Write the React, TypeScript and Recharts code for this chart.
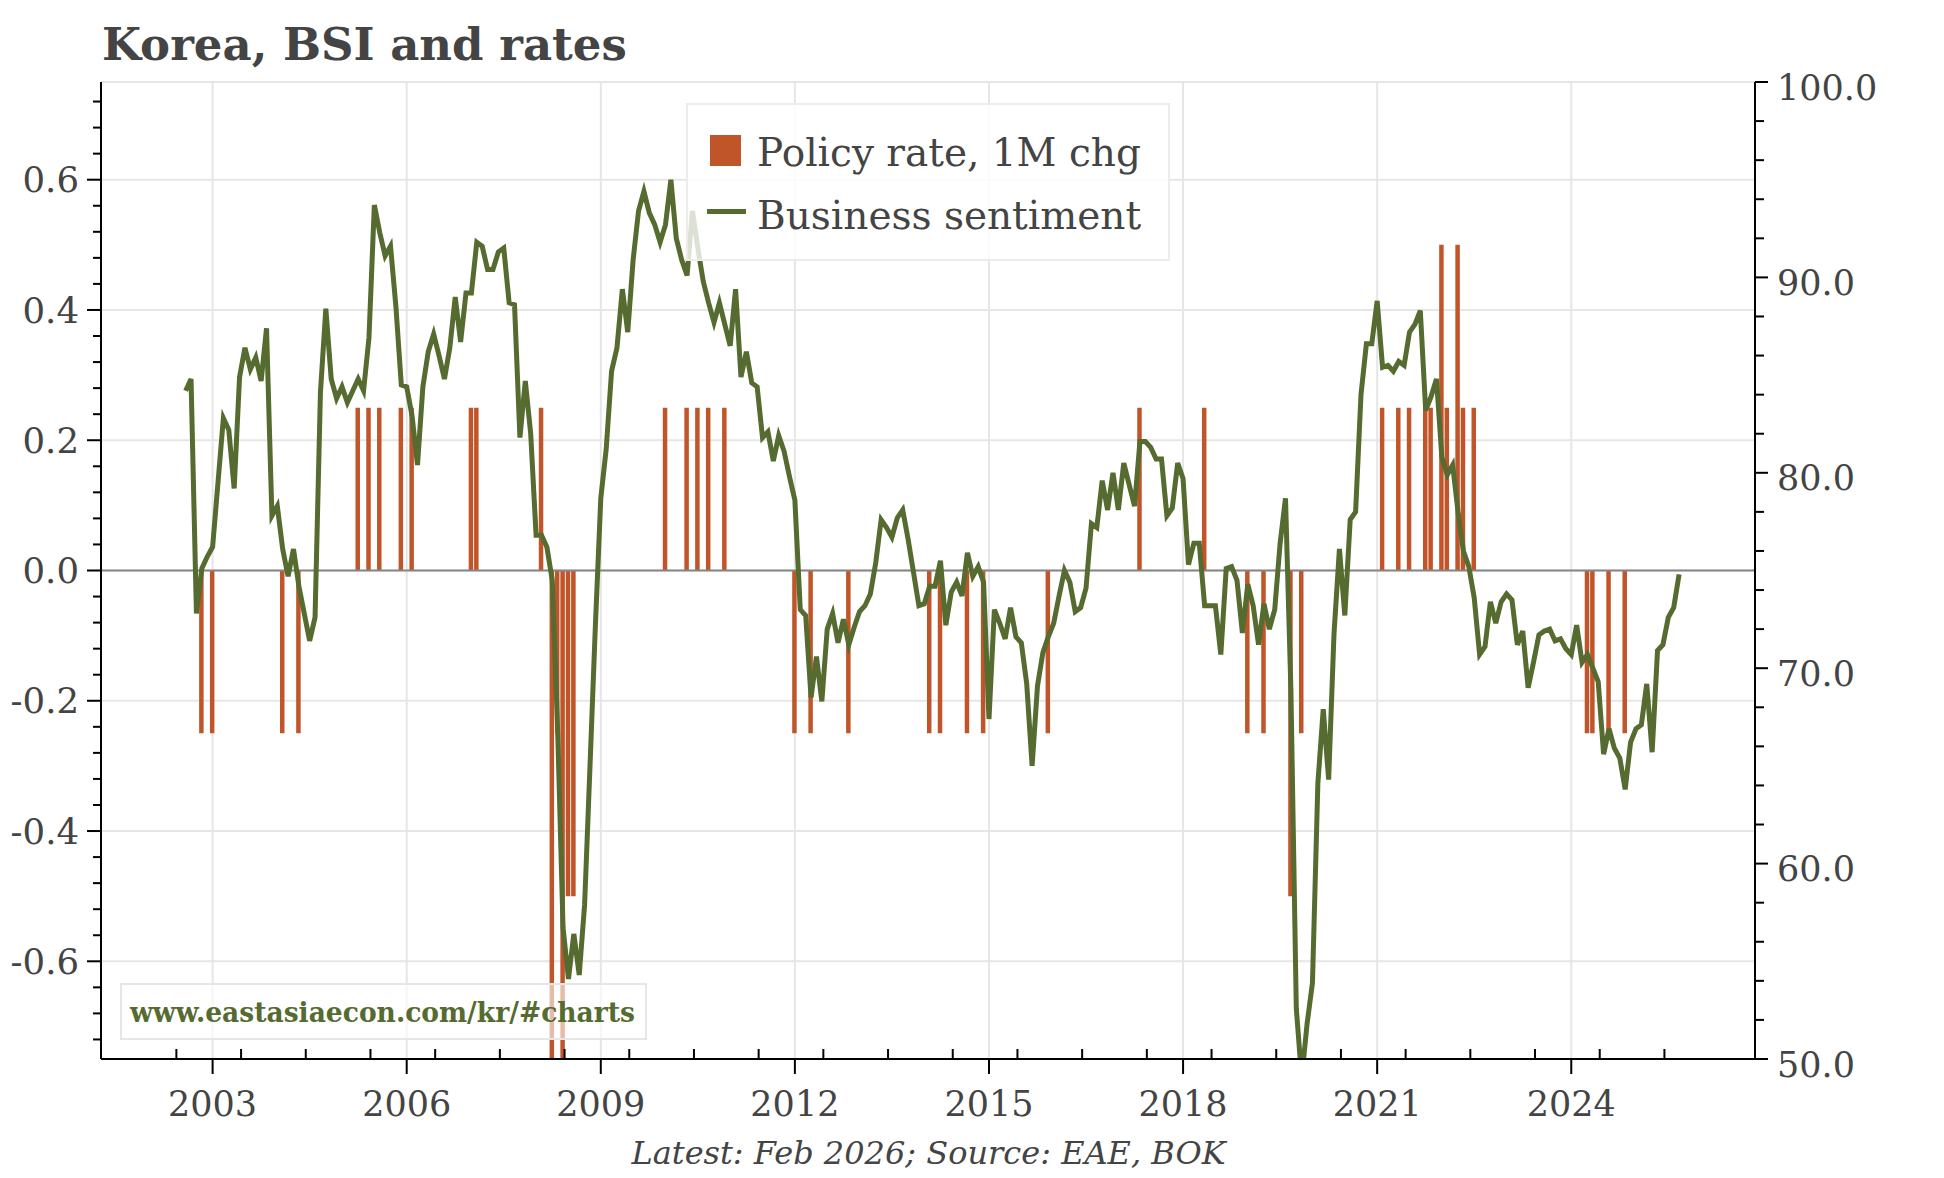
import React from 'react';
import { ComposedChart, Bar, Line, XAxis, YAxis, CartesianGrid, ReferenceLine, Legend } from 'recharts';

const FONT = '"DejaVu Serif", serif';
const TEXT = '#444444';
const GREEN = '#556B2F';
const ORANGE = '#C0552A';

// Business sentiment (monthly, Jan 2003 .. Feb 2026)
const bsi2003 = [84.2, 84.8, 72.8, 75.1, 75.7, 76.2, 79.5, 82.8, 82.2, 79.2, 84.9, 86.4];
const bsi2004 = [85.3, 85.9, 84.7, 87.4, 77.8, 78.3, 76.1, 74.7, 76.1, 74.2, 72.8, 71.4];
const bsi2005 = [72.6, 84.1, 88.4, 84.8, 83.8, 84.4, 83.6, 84.2, 84.8, 84.2, 86.9, 93.7];
const bsi2006 = [92.3, 91.1, 91.6, 88.5, 84.5, 84.4, 82.9, 80.4, 84.4, 86.2, 87.1, 86.0];
const bsi2007 = [84.8, 86.4, 89.0, 86.7, 89.2, 89.2, 91.8, 91.6, 90.4, 90.4, 91.3, 91.5];
const bsi2008 = [88.7, 88.6, 81.8, 84.7, 82.0, 76.8, 76.8, 76.2, 74.5, 66.8, 56.7, 54.1];
const bsi2009 = [56.4, 54.3, 57.9, 65.0, 72.2, 78.7, 81.2, 85.2, 86.4, 89.4, 87.2, 90.9];
const bsi2010 = [93.4, 94.4, 93.3, 92.7, 91.8, 92.7, 95.0, 92.0, 90.9, 90.1, 93.4, 91.5];
const bsi2011 = [89.8, 88.7, 87.7, 88.7, 87.6, 86.5, 89.4, 84.9, 86.2, 84.6, 84.4, 81.8];
const bsi2012 = [82.1, 80.6, 81.9, 81.1, 79.8, 78.6, 73.0, 72.7, 68.5, 70.6, 68.3, 72.0];
const bsi2013 = [72.8, 71.3, 72.5, 71.2, 72.1, 72.9, 73.2, 73.8, 75.4, 77.6, 77.2, 76.7];
const bsi2014 = [77.7, 78.1, 76.6, 74.9, 73.2, 73.3, 74.2, 74.2, 75.5, 72.2, 73.9, 74.4];
const bsi2015 = [73.7, 75.9, 74.7, 75.2, 74.4, 67.4, 73.0, 72.3, 71.5, 73.1, 71.6, 71.3];
const bsi2016 = [69.2, 65.0, 69.1, 70.8, 71.6, 72.3, 73.7, 75.0, 74.4, 72.9, 73.1, 74.1];
const bsi2017 = [77.4, 77.2, 79.6, 78.1, 80.0, 78.1, 80.5, 79.4, 78.3, 81.6, 81.6, 81.3];
const bsi2018 = [80.7, 80.7, 77.8, 78.2, 80.5, 79.7, 75.3, 76.4, 76.4, 73.2, 73.2, 73.2];
const bsi2019 = [70.7, 75.1, 75.2, 74.5, 71.8, 74.3, 73.2, 71.2, 73.3, 72.0, 73.0, 76.4];
const bsi2020 = [78.7, 68.9, 52.6, 49.0, 51.8, 53.9, 64.1, 67.9, 64.3, 71.8, 76.1, 72.7];
const bsi2021 = [77.6, 78.0, 84.0, 86.6, 86.6, 88.8, 85.4, 85.5, 85.2, 85.7, 85.5, 87.2];
const bsi2022 = [87.6, 88.3, 83.2, 83.9, 84.8, 80.8, 79.9, 80.4, 78.0, 76.0, 75.2, 73.6];
const bsi2023 = [70.7, 71.1, 73.4, 72.3, 73.4, 73.8, 73.5, 71.2, 71.9, 69.0, 70.3, 71.7];
const bsi2024 = [71.9, 72.0, 71.4, 71.5, 71.0, 70.7, 72.2, 70.3, 70.7, 70.0, 69.3, 65.6];
const bsi2025 = [66.9, 65.9, 65.4, 63.8, 66.2, 66.9, 67.1, 69.2, 65.7, 70.9, 71.2, 72.6];
const bsi2026 = [73.1, 74.8];

const bsiByYear = [
  bsi2003, bsi2004, bsi2005, bsi2006, bsi2007, bsi2008, bsi2009, bsi2010, bsi2011, bsi2012,
  bsi2013, bsi2014, bsi2015, bsi2016, bsi2017, bsi2018, bsi2019, bsi2020, bsi2021, bsi2022,
  bsi2023, bsi2024, bsi2025, bsi2026,
];

// Policy rate, one-month change (percentage points)
const rateChanges: [string, number][] = [
  ['2003-05', -0.25], ['2003-07', -0.25],
  ['2004-08', -0.25], ['2004-11', -0.25],
  ['2005-10', 0.25], ['2005-12', 0.25],
  ['2006-02', 0.25], ['2006-06', 0.25], ['2006-08', 0.25],
  ['2007-07', 0.25], ['2007-08', 0.25],
  ['2008-08', 0.25], ['2008-10', -1.0], ['2008-11', -0.25], ['2008-12', -1.0],
  ['2009-01', -0.5], ['2009-02', -0.5],
  ['2010-07', 0.25], ['2010-11', 0.25],
  ['2011-01', 0.25], ['2011-03', 0.25], ['2011-06', 0.25],
  ['2012-07', -0.25], ['2012-10', -0.25],
  ['2013-05', -0.25],
  ['2014-08', -0.25], ['2014-10', -0.25],
  ['2015-03', -0.25], ['2015-06', -0.25],
  ['2016-06', -0.25],
  ['2017-11', 0.25],
  ['2018-11', 0.25],
  ['2019-07', -0.25], ['2019-10', -0.25],
  ['2020-03', -0.5], ['2020-05', -0.25],
  ['2021-08', 0.25], ['2021-11', 0.25],
  ['2022-01', 0.25], ['2022-04', 0.25], ['2022-05', 0.25], ['2022-07', 0.5],
  ['2022-08', 0.25], ['2022-10', 0.5], ['2022-11', 0.25],
  ['2023-01', 0.25],
  ['2024-10', -0.25], ['2024-11', -0.25],
  ['2025-02', -0.25], ['2025-05', -0.25],
];

const START_YEAR = 2003;
const xLabelYears = [2003, 2006, 2009, 2012, 2015, 2018, 2021, 2024];
const xMinorYears = [2002, 2003, 2004, 2005, 2006, 2007, 2008, 2009, 2010, 2011, 2012, 2013, 2014,
  2015, 2016, 2017, 2018, 2019, 2020, 2021, 2022, 2023, 2024, 2025];
const leftLabelTicks = [-0.6, -0.4, -0.2, 0, 0.2, 0.4, 0.6];

const X_DOMAIN: [number, number] = [2001.775, 2027.34];
const L_DOMAIN: [number, number] = [-0.75, 0.75];
const R_DOMAIN: [number, number] = [50, 100];

// Build table
const bsiSeries: number[] = bsiByYear.flat();
const rateMap = new Map<number, number>();
rateChanges.forEach(([d, v]) => {
  const [y, m] = d.split('-').map(Number);
  rateMap.set((y - START_YEAR) * 12 + (m - 1), v);
});
const data = Array.from({ length: bsiSeries.length + 1 }, (_, k) => ({
  t: START_YEAR + k / 12,
  rate: rateMap.has(k) ? rateMap.get(k) : null,
  bsi: k >= 1 ? bsiSeries[k - 1] : null,
}));

const xMajorTicks = xLabelYears.map((y) => y + 0.5);
const xMinorTicks = xMinorYears.map((y) => y + 0.94);
const xTicks = [...xMajorTicks, ...xMinorTicks].sort((a, b) => a - b);
const leftTicks = Array.from({ length: 37 }, (_, i) => (i - 18) * 0.04);
const rightTicks = Array.from({ length: 26 }, (_, i) => 50 + i * 2);

const isXMajor = (v: number) => xMajorTicks.some((m) => Math.abs(m - v) < 1e-6);

const XTick = (props: any) => {
  const { x, y, payload } = props;
  const v = payload.value as number;
  if (isXMajor(v)) {
    return (
      <g>
        <line x1={x} x2={x} y1={y} y2={y + 15} stroke="#000" strokeWidth={2} />
        <text x={x} y={y + 57} textAnchor="middle" fontFamily={FONT} fontSize={35} fill={TEXT}>
          {Math.round(v - 0.5)}
        </text>
      </g>
    );
  }
  return <line x1={x} x2={x} y1={y} y2={y - 10} stroke="#000" strokeWidth={2} />;
};

const LeftTick = (props: any) => {
  const { x, y, payload } = props;
  const v = payload.value as number;
  const major = Math.abs(Math.round(v * 100)) % 20 === 0;
  return (
    <g>
      <line x1={x} x2={x - (major ? 14 : 8)} y1={y} y2={y} stroke="#000" strokeWidth={2} />
      {major && (
        <text x={x - 22} y={y + 12.6} textAnchor="end" fontFamily={FONT} fontSize={35.5} fill={TEXT}>
          {(Math.abs(v) < 1e-9 ? 0 : v).toFixed(1)}
        </text>
      )}
    </g>
  );
};

const RightTick = (props: any) => {
  const { x, y, payload } = props;
  const v = payload.value as number;
  const major = Math.round(v) % 10 === 0;
  return (
    <g>
      <line x1={x} x2={x + (major ? 13 : 9)} y1={y} y2={y} stroke="#000" strokeWidth={2} />
      {major && (
        <text x={x + 22} y={y + 17.5} textAnchor="start" fontFamily={FONT} fontSize={35} fill={TEXT}>
          {v.toFixed(1)}
        </text>
      )}
    </g>
  );
};

const LegendBox = (props: any) => {
  const payload: any[] = props.payload || [];
  const barItem = payload.find((p) => p.dataKey === 'rate');
  const lineItem = payload.find((p) => p.dataKey === 'bsi');
  return (
    <div
      style={{
        position: 'relative',
        width: 484,
        height: 158,
        boxSizing: 'border-box',
        border: '2px solid #ececec',
        background: 'rgba(255,255,255,0.8)',
        fontFamily: FONT,
        fontSize: 39,
        color: TEXT,
      }}
    >
      {barItem && (
        <>
          <div style={{ position: 'absolute', left: 22, top: 30, width: 31, height: 31, background: barItem.color }} />
          <div style={{ position: 'absolute', left: 69, top: 28, lineHeight: '39px', whiteSpace: 'nowrap' }}>
            {barItem.value}
          </div>
        </>
      )}
      {lineItem && (
        <>
          <div style={{ position: 'absolute', left: 19, top: 104, width: 39, height: 5, background: lineItem.color }} />
          <div style={{ position: 'absolute', left: 69, top: 91, lineHeight: '39px', whiteSpace: 'nowrap' }}>
            {lineItem.value}
          </div>
        </>
      )}
    </div>
  );
};

export default function App() {
  return (
    <div style={{ position: 'relative', width: 1928, height: 1170, background: '#fff' }}>
      <ComposedChart
        width={1928}
        height={1165}
        data={data}
        margin={{ top: 74, right: 0, bottom: 0, left: 0 }}
      >
        <CartesianGrid
          yAxisId="L"
          horizontalValues={[...leftLabelTicks, 0.75]}
          verticalValues={xMajorTicks}
          stroke="#e6e6e6"
          strokeWidth={2}
        />
        <XAxis
          dataKey="t"
          type="number"
          domain={X_DOMAIN}
          allowDataOverflow
          ticks={xTicks}
          interval={0}
          tick={<XTick />}
          tickLine={false}
          tickSize={0}
          tickMargin={0}
          height={114}
          axisLine={{ stroke: '#000', strokeWidth: 2 }}
        />
        <YAxis
          yAxisId="L"
          orientation="left"
          type="number"
          domain={L_DOMAIN}
          allowDataOverflow
          ticks={leftTicks}
          interval={0}
          tick={<LeftTick />}
          tickLine={false}
          tickSize={0}
          tickMargin={0}
          width={93}
          axisLine={{ stroke: '#000', strokeWidth: 2 }}
        />
        <YAxis
          yAxisId="R"
          orientation="right"
          type="number"
          domain={R_DOMAIN}
          allowDataOverflow
          ticks={rightTicks}
          interval={0}
          tick={<RightTick />}
          tickLine={false}
          tickSize={0}
          tickMargin={0}
          width={181}
          axisLine={{ stroke: '#000', strokeWidth: 2 }}
        />
        <Bar
          yAxisId="L"
          dataKey="rate"
          name="Policy rate, 1M chg"
          fill={ORANGE}
          barSize={4.5}
          isAnimationActive={false}
        />
        <ReferenceLine yAxisId="L" y={0} stroke="#868686" strokeWidth={2} />
        <Line
          yAxisId="R"
          dataKey="bsi"
          name="Business sentiment"
          type="linear"
          stroke={GREEN}
          strokeWidth={5}
          dot={false}
          activeDot={false}
          isAnimationActive={false}
        />
        <Legend
          layout="horizontal"
          verticalAlign="middle"
          align="center"
          content={<LegendBox />}
          wrapperStyle={{ left: 678, top: 95, width: 484, height: 158 }}
        />
      </ComposedChart>
      <svg
        width={1928}
        height={1170}
        style={{ position: 'absolute', left: 0, top: 0, pointerEvents: 'none' }}
      >
        <text x={94} y={52} fontFamily={FONT} fontWeight="bold" fontSize={45} fill={TEXT}>
          Korea, BSI and rates
        </text>
        <rect x={113} y={976} width={525} height={55} fill="rgba(255,255,255,0.6)" stroke="#e6e6e6" strokeWidth={2} />
        <text x={122} y={1014} fontFamily={FONT} fontWeight="bold" fontSize={27} fill={GREEN} textLength={505} lengthAdjust="spacingAndGlyphs">
          www.eastasiaecon.com/kr/#charts
        </text>
        <text x={920.5} y={1155.5} textAnchor="middle" fontFamily={FONT} fontStyle="italic" fontSize={32} fill={TEXT}>
          Latest: Feb 2026; Source: EAE, BOK
        </text>
      </svg>
    </div>
  );
}
